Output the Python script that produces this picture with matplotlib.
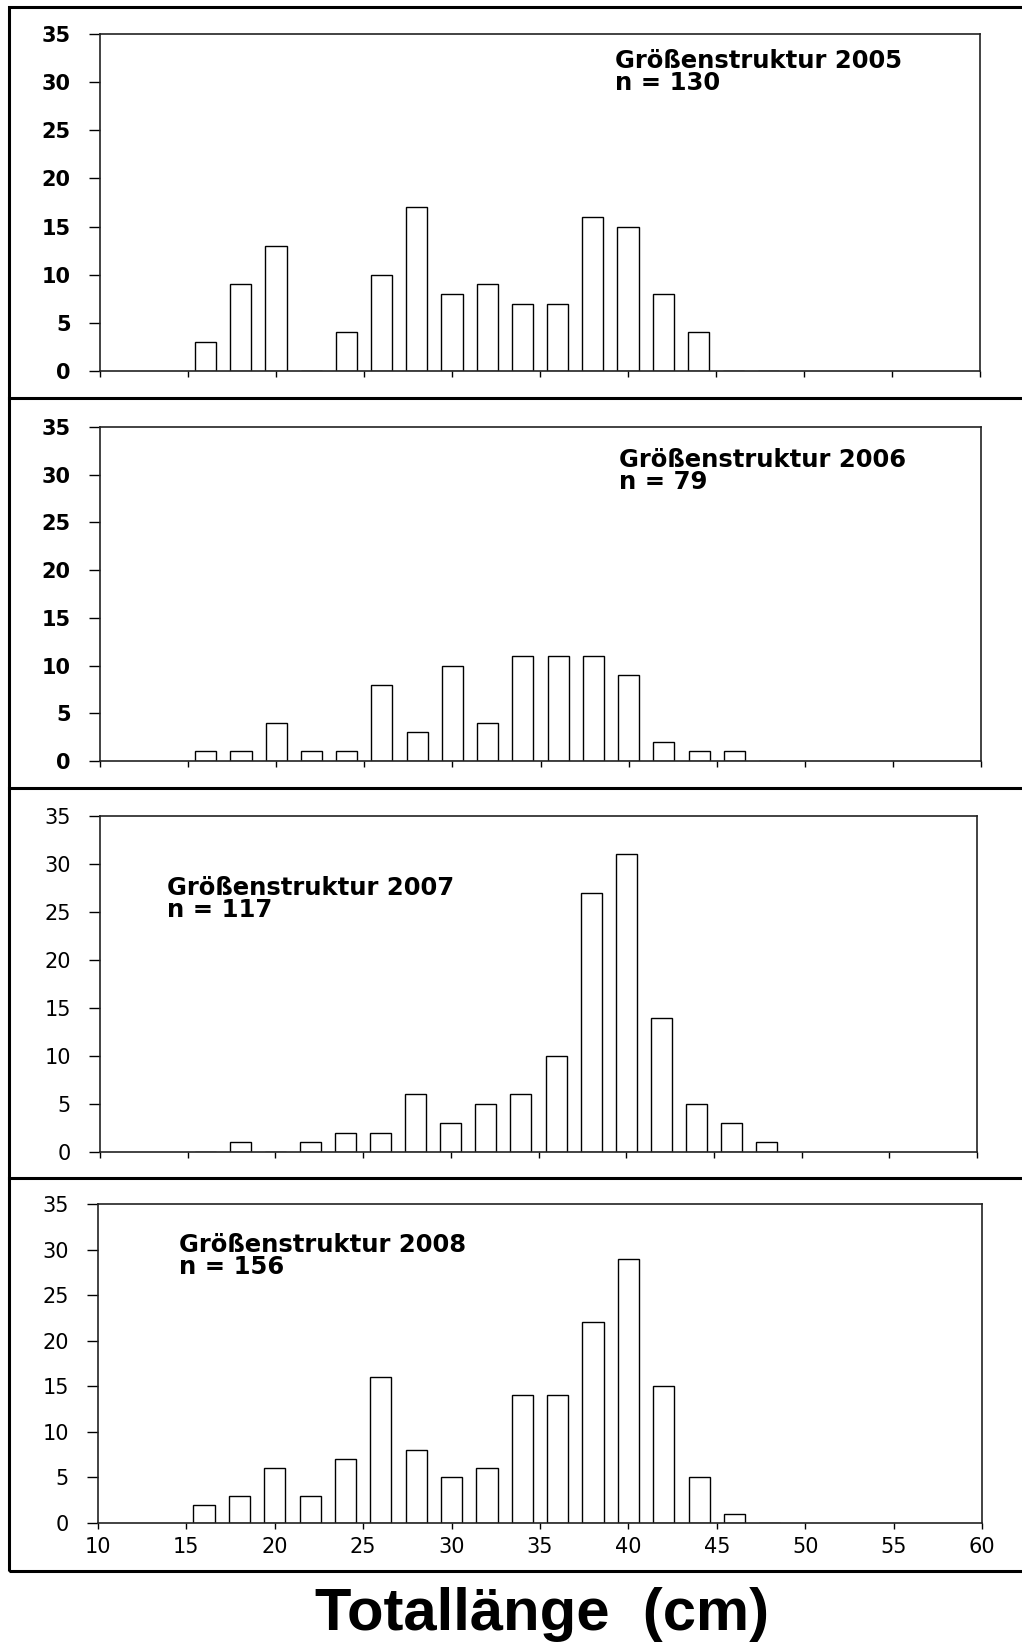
import matplotlib
matplotlib.use("Agg")
import matplotlib.pyplot as plt
from matplotlib.lines import Line2D
from matplotlib.patches import Rectangle

# ---- data ----
length_classes = [16, 18, 20, 22, 24, 26, 28, 30, 32, 34, 36, 38, 40, 42, 44, 46, 48]
counts_2005 = [3, 9, 13, 0, 4, 10, 17, 8, 9, 7, 7, 16, 15, 8, 4, 0, 0]
counts_2006 = [1, 1, 4, 1, 1, 8, 3, 10, 4, 11, 11, 11, 9, 2, 1, 1, 0]
counts_2007 = [0, 1, 0, 1, 2, 2, 6, 3, 5, 6, 10, 27, 31, 14, 5, 3, 1]
counts_2008 = [2, 3, 6, 3, 7, 16, 8, 5, 6, 14, 14, 22, 29, 15, 5, 1, 0]
titles = ["Größenstruktur 2005\nn = 130", "Größenstruktur 2006\nn = 79",
          "Größenstruktur 2007\nn = 117", "Größenstruktur 2008\nn = 156"]
series = [counts_2005, counts_2006, counts_2007, counts_2008]
xticks = [10, 15, 20, 25, 30, 35, 40, 45, 50, 55, 60]
yticks = [0, 5, 10, 15, 20, 25, 30, 35]
xlabel = "Totallänge  (cm)"

W, H = 1022, 1644
fig = plt.figure(figsize=(W / 100, H / 100), dpi=100)

def fx(px):
    return px / W

def fy(py):
    return 1 - py / H

# axes boxes in pixels: left, right, top, bottom
boxes = [(100, 980, 34, 371), (100, 981, 427, 761), (100, 977, 816, 1152), (98, 982, 1204, 1523)]
text_pos = [(615, 49), (619, 448), (167, 876), (179, 1233)]
bold_ticks = [True, True, False, False]

for i, (vals, (l, r, t, b)) in enumerate(zip(series, boxes)):
    ax = fig.add_axes([fx(l), fy(b), (r - l) / W, (b - t) / H])
    ax.bar(length_classes, vals, width=1.2, color="white", edgecolor="black", linewidth=1.0)
    ax.set_xlim(10, 60)
    ax.set_ylim(0, 35)
    ax.set_xticks(xticks)
    ax.set_yticks(yticks)
    for s in ax.spines.values():
        s.set_linewidth(1.2)
        s.set_color("#222222")
    ax.tick_params(axis="y", direction="out", length=8, width=1.0, pad=13)
    ax.tick_params(axis="x", direction="out", length=4, width=1.0, pad=6)
    weight = "bold" if bold_ticks[i] else "normal"
    for lab in ax.get_yticklabels():
        lab.set_fontfamily("DejaVu Sans")
        lab.set_fontsize(15)
        lab.set_fontweight(weight)
    if i < 3:
        ax.set_xticklabels([])
    else:
        for lab in ax.get_xticklabels():
            lab.set_fontfamily("DejaVu Sans")
            lab.set_fontsize(15)
    tx, ty = text_pos[i]
    fig.text(fx(tx), fy(ty), titles[i], ha="left", va="top", fontsize=17.5,
             fontweight="bold", family="DejaVu Sans", linespacing=0.92)

# outer frame and separators
frame_lw = 2.2
fig.add_artist(Rectangle((fx(9), fy(1571)), 1.2, fy(7) - fy(1571), transform=fig.transFigure,
                         fill=False, edgecolor="black", linewidth=frame_lw))
for ysep in [398, 788, 1178]:
    fig.add_artist(Line2D([fx(9), 1.0], [fy(ysep), fy(ysep)], transform=fig.transFigure,
                          color="black", linewidth=frame_lw))

fig.text(fx(542), fy(1614), xlabel, ha="center", va="center", fontsize=43,
         fontweight="bold", family="Liberation Sans")

fig.savefig("out.png", dpi=100)
